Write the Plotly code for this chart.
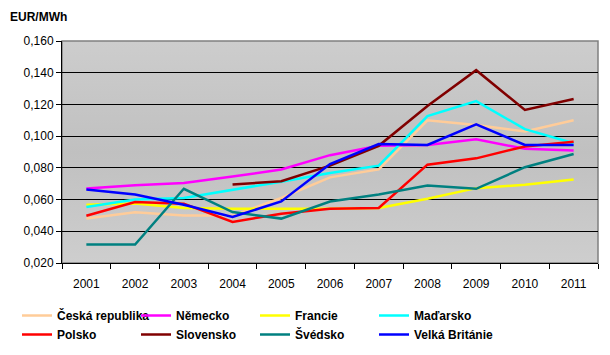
import base64
import plotly.graph_objects as go

years = ["2001", "2002", "2003", "2004", "2005", "2006", "2007", "2008", "2009", "2010", "2011"]

ceska_republika = [0.048, 0.052, 0.050, 0.050, 0.061, 0.074, 0.079, 0.110, 0.107, 0.103, 0.110]
nemecko = [0.067, 0.069, 0.0705, 0.0745, 0.079, 0.088, 0.094, 0.0944, 0.098, 0.092, 0.091]
francie = [0.0567, 0.0575, 0.0547, 0.0542, 0.0542, 0.0542, 0.0547, 0.0605, 0.0672, 0.0693, 0.0726]
madarsko = [0.0553, 0.060, 0.061, 0.0661, 0.0713, 0.0768, 0.0814, 0.1127, 0.1221, 0.1044, 0.0955]
polsko = [0.0498, 0.0584, 0.0574, 0.0459, 0.0511, 0.0542, 0.0547, 0.082, 0.086, 0.0935, 0.0964]
slovensko = [None, None, None, 0.0695, 0.0716, 0.0814, 0.0939, 0.119, 0.1416, 0.1165, 0.1234]
svedsko = [0.0316, 0.0316, 0.0668, 0.0521, 0.048, 0.0588, 0.0632, 0.0688, 0.0668, 0.0804, 0.0887]
velka_britanie = [0.0663, 0.0632, 0.0567, 0.049, 0.0588, 0.0824, 0.095, 0.0944, 0.1075, 0.0944, 0.0944]

y_ticks = [0.020, 0.040, 0.060, 0.080, 0.100, 0.120, 0.140, 0.160]

series = [
    ("Česká republika", ceska_republika, "#FFCC99"),
    ("Německo", nemecko, "#FF00FF"),
    ("Francie", francie, "#FFFF00"),
    ("Maďarsko", madarsko, "#00FFFF"),
    ("Polsko", polsko, "#FF0000"),
    ("Slovensko", slovensko, "#800000"),
    ("Švédsko", svedsko, "#008080"),
    ("Velká Británie", velka_britanie, "#0000FF"),
]

fig = go.Figure()
for name, vals, col in series:
    fig.add_trace(go.Scatter(
        x=years, y=vals, name=name, mode="lines",
        line=dict(color=col, width=2.5),
        connectgaps=False,
    ))

font = "Liberation Sans, Arial, sans-serif"

# gradient background for the plot area
svg = (
    '<svg xmlns="http://www.w3.org/2000/svg" width="100" height="100" preserveAspectRatio="none">'
    '<defs><linearGradient id="g" x1="0" y1="0" x2="0" y2="1">'
    '<stop offset="0" stop-color="#CDCDCD"/>'
    '<stop offset="0.5" stop-color="#C0C0C0"/>'
    '<stop offset="1" stop-color="#CECECE"/>'
    '</linearGradient></defs>'
    '<rect width="100" height="100" fill="url(#g)"/></svg>'
)
svg_uri = "data:image/svg+xml;base64," + base64.b64encode(svg.encode()).decode()

W, H = 602, 347  # body has 8px default margin in the page

fig.update_layout(
    width=W, height=H,
    margin=dict(l=54, r=12, t=33, b=92, autoexpand=False),
    paper_bgcolor="white",
    plot_bgcolor="#C6C6C6",
    separators=", ",
    font=dict(family=font, size=12, color="black"),
    showlegend=True,
    legend=dict(
        orientation="h",
        xref="container", x=9 / W, xanchor="left",
        yref="container", y=1 - 293 / H, yanchor="top",
        entrywidth=74, entrywidthmode="pixels",
        font=dict(family=font, size=12, color="black", weight="bold"),
        itemwidth=30,
        bgcolor="rgba(0,0,0,0)",
    ),
    images=[dict(
        source=svg_uri, xref="paper", yref="paper",
        x=0, y=1, sizex=1, sizey=1, xanchor="left", yanchor="top",
        sizing="stretch", layer="below",
    )],
    annotations=[dict(
        text="<b>EUR/MWh</b>", xref="paper", yref="paper",
        x=-54 / 536, y=1 + 24 / 222,
        showarrow=False, xanchor="left", yanchor="middle",
        font=dict(family=font, size=12, color="black"),
    )],
)

fig.add_shape(type="rect", xref="paper", yref="paper", x0=0, x1=1, y0=0, y1=1,
              line=dict(color="#808080", width=1.5), layer="below")

fig.update_xaxes(
    type="category",
    range=[-0.5, 10.5],
    showgrid=False,
    showline=True, linecolor="black", linewidth=1,
    ticks="outside", ticklen=5, tickcolor="black",
    tickson="boundaries",
    ticklabelstandoff=10,
    tickfont=dict(family=font, size=12, color="black"),
    zeroline=False,
)
fig.update_yaxes(
    range=[0.020, 0.160],
    tickvals=y_ticks,
    tickformat=".3f",
    showgrid=True, gridcolor="black", gridwidth=1,
    showline=True, linecolor="black", linewidth=1,
    ticks="outside", ticklen=5, tickcolor="black",
    tickfont=dict(family=font, size=12, color="black"),
    zeroline=False,
)

fig.write_html("out.html")
